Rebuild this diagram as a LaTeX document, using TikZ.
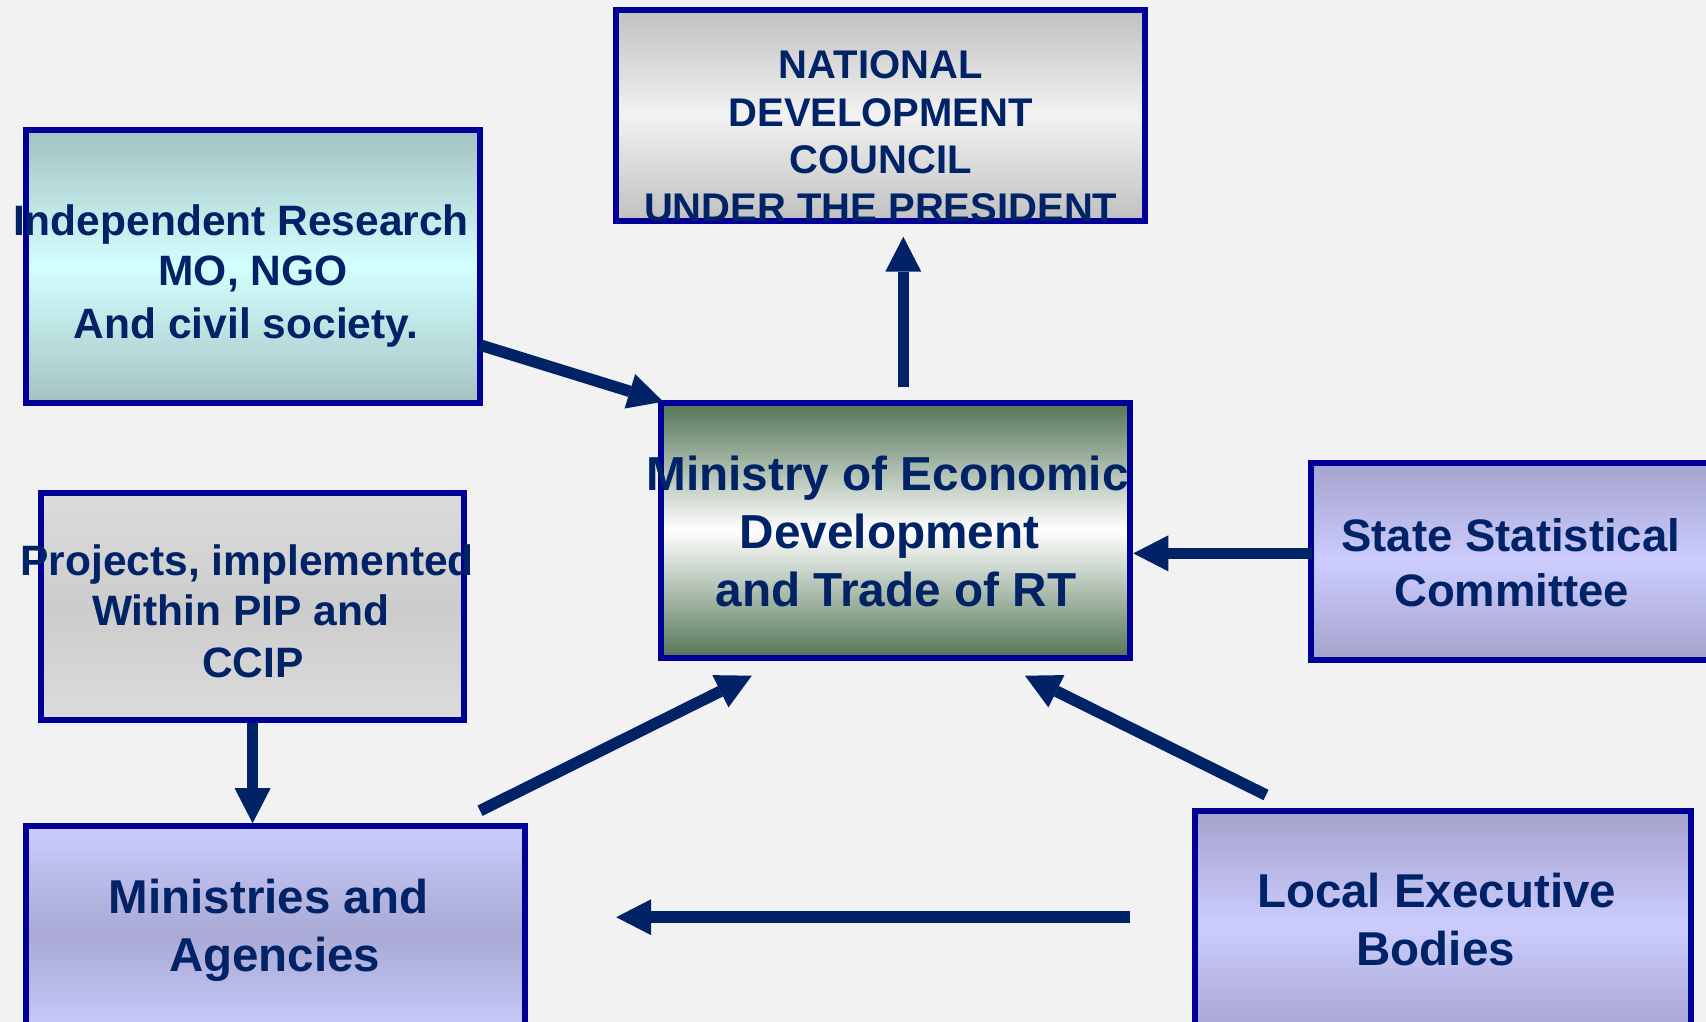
\documentclass[tikz,border=0pt]{standalone}
\usepackage{fontspec}
\setmainfont{Liberation Sans}
\usetikzlibrary{arrows.meta,calc}
\definecolor{navy}{RGB}{0,34,102}
\definecolor{bord}{RGB}{0,0,153}
\definecolor{bg}{RGB}{242,242,242}
\definecolor{grayA}{RGB}{192,192,192}
\definecolor{grayB}{RGB}{242,242,242}
\definecolor{tealA}{RGB}{164,194,194}
\definecolor{tealB}{RGB}{212,255,255}
\definecolor{greenA}{RGB}{84,118,86}
\definecolor{lilacA}{RGB}{164,163,204}
\definecolor{lilacB}{RGB}{204,204,255}
\definecolor{lilacC}{RGB}{169,169,212}
\definecolor{projA}{RGB}{220,220,220}
\definecolor{projB}{RGB}{204,204,204}
\tikzset{
  box/.style={draw=bord, line width=6pt, inner sep=0pt, outer sep=3pt, rectangle},
  txt/.style={text=navy, inner sep=0pt, anchor=base, font=\bfseries\fontsize{#1}{#1}\selectfont},
  arr/.style={draw=navy, line width=11.5pt, -{Triangle[length=35pt,width=36pt,line width=0pt]}, fill=none}
}
\begin{document}
\begin{tikzpicture}[x=1pt,y=-1pt]
\useasboundingbox (0,0) rectangle (1706,1022);
\fill[bg] (0,0) rectangle (1706,1022);
\clip (0,0) rectangle (1706,1022);

% boxes
\node[box, minimum width=529, minimum height=211.3, top color=grayA, bottom color=grayA, middle color=grayB] (ndc) at (880.7,115.35) {};
\node[box, minimum width=453.4, minimum height=272.4, top color=tealA, bottom color=tealA, middle color=tealB] (indep) at (253,266.5) {};
\node[box, minimum width=469, minimum height=255, top color=greenA, bottom color=greenA, middle color=white] (ministry) at (895.8,530.5) {};
\node[box, minimum width=404, minimum height=196.7, top color=lilacA, bottom color=lilacA, middle color=lilacB] (state) at (1513,561.35) {};
\node[box, minimum width=495.5, minimum height=228.6, top color=lilacA, bottom color=lilacA, middle color=lilacB] (local) at (1443.15,925.7) {};
\node[box, minimum width=423.4, minimum height=226.6, top color=projA, bottom color=projA, middle color=projB] (proj) at (252.6,606.7) {};
\node[box, minimum width=498.1, minimum height=213.8, top color=lilacB, bottom color=lilacB, middle color=lilacC] (mins) at (275.45,933.1) {};

% texts
\node[txt=40] (ndc1) at (880.7,79) {NATIONAL};
\node[txt=40] (ndc2) at (880.7,127) {DEVELOPMENT};
\node[txt=40] (ndc3) at (880.7,174) {COUNCIL};
\node[txt=40] (ndc4) at (880.7,222) {UNDER THE PRESIDENT};

\node[txt=42.5] (indep1) at (241,235) {Independent Research};
\node[txt=42.5] (indep2) at (253,285.7) {MO, NGO};
\node[txt=42.5] (indep3) at (246,338) {And civil society.};

\node[txt=47.7] (min1) at (887.5,490) {Ministry of Economic};
\node[txt=47.7] (min2) at (889.7,548.3) {Development};
\node[txt=47.7] (min3) at (896,606) {and Trade of RT};

\node[txt=45.5] (state1) at (1510.8,551.7) {State Statistical};
\node[txt=45.5] (state2) at (1511.7,606) {Committee};

\node[txt=47.5] (local1) at (1436.6,907.4) {Local Executive};
\node[txt=47.5] (local2) at (1435.8,965.1) {Bodies};

\node[txt=42.5] (proj1) at (247.1,575.1) {Projects, implemented};
\node[txt=42.5] (proj2) at (240.7,625.9) {Within PIP and};
\node[txt=42.5] (proj3) at (252.8,677.7) {CCIP};

\node[txt=47.5] (mins1) at (268.6,913.8) {Ministries and};
\node[txt=47.5] (mins2) at (274.6,971.5) {Agencies};

% connectors
\coordinate (up-s) at ($(ministry.north)+(7.5,-12.7)$);
\coordinate (up-e) at ($(ndc.south)+(22.6,12.7)$);
\coordinate (st-s) at ($(state.west)+(3.7,-8)$);
\coordinate (lm-s) at ($(local.west)+(-62.1,-8.5)$);
\coordinate (lm-x) at ($(mins.east)+(88.7,0)$);
\draw[arr] (up-s) -- (up-s |- up-e);
\draw[arr] ($(indep.east)+(-2.7,78.5)$) -- ($(ministry.north west)+(5,1.7)$);
\draw[arr] (st-s) -- (st-s -| ministry.east);
\draw[arr] ($(mins.north east)+(-47.5,-12.5)$) -- ($(ministry.south)+(-144,14.7)$);
\draw[arr] ($(local.north west)+(73.6,-13.4)$) -- ($(ministry.south)+(129.2,14.7)$);
\draw[arr] (lm-s) -- (lm-x |- lm-s);
\draw[arr] (proj.south) -- (proj.south |- mins.north);
\end{tikzpicture}
\end{document}
